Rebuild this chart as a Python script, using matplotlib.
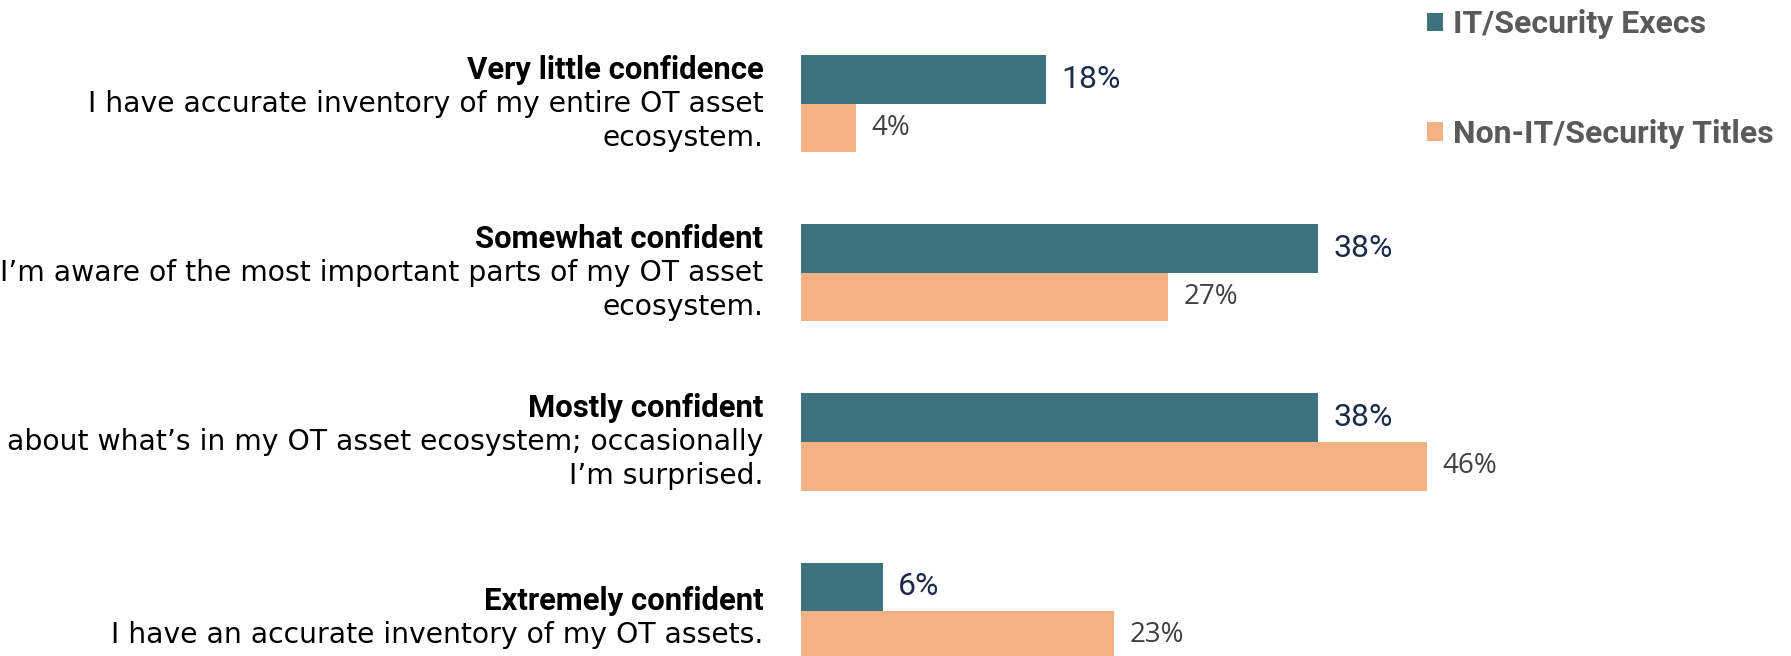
import numpy as np
import matplotlib.pyplot as plt

# survey answers, top to bottom
headings = ["Very little confidence", "Somewhat confident",
            "Mostly confident", "Extremely confident"]
details = ["I have accurate inventory of my entire OT asset\necosystem.",
           "I\u2019m aware of the most important parts of my OT asset\necosystem.",
           "about what\u2019s in my OT asset ecosystem; occasionally\nI\u2019m surprised.",
           "I have an accurate inventory of my OT assets."]
series_names = ["IT/Security Execs", "Non-IT/Security Titles"]
it_execs = [18, 38, 38, 6]
non_it = [4, 27, 46, 23]

TEAL = "#3d737f"
PEACH = "#f4b183"

fig = plt.figure(figsize=(17.91, 6.56), dpi=100)
ax = fig.add_axes([0.4475, 0.0, 0.5525, 1.0])

y = np.arange(len(headings))
h = 0.287
b1 = ax.barh(y - h / 2, it_execs, height=h, color=TEAL, label=series_names[0])
b2 = ax.barh(y + h / 2, non_it, height=h, color=PEACH, label=series_names[1])

ax.set_xlim(0, 72.8)
ax.set_ylim(3.266, -0.615)
ax.axis("off")

# value labels just past the end of each bar
for rect, v in zip(b1, it_execs):
    ax.annotate(f"{v}%", xy=(v, rect.get_y() + rect.get_height() / 2),
                xytext=(11, 0), textcoords="offset points", va="center",
                ha="left", fontsize=23, family="Roboto", color="#1b2a4a")
for rect, v in zip(b2, non_it):
    ax.annotate(f"{v}%", xy=(v, rect.get_y() + rect.get_height() / 2),
                xytext=(11, 0), textcoords="offset points", va="center",
                ha="left", fontsize=20, family="Open Sans", color="#404040")

# category text: bold heading followed by the description lines
tr = ax.get_yaxis_transform()
step = 0.2
for i, (head, body) in enumerate(zip(headings, details)):
    lines = [head] + body.split("\n")
    n = len(lines)
    shift = 0.04 if n == 2 else 0.0
    for k, line in enumerate(lines):
        yy = i + (k - (n - 1) / 2) * step + shift
        if k == 0:
            ax.text(-0.0384, yy, line, transform=tr, ha="right", va="center",
                    fontsize=22.4, family="Roboto", fontweight="bold", color="black")
        else:
            ax.text(-0.0384, yy, line, transform=tr, ha="right", va="center",
                    fontsize=20.3, family="DejaVu Sans", color="black")

fig.legend(handles=[b1, b2], labels=series_names, loc="upper left",
           bbox_to_anchor=(1427 / 1791, 1.0 - 9 / 656), frameon=False,
           prop={"family": "Roboto", "weight": "bold", "size": 23},
           labelcolor="#5a5a5a", handlelength=0.5, handleheight=0.5,
           handletextpad=0.3, labelspacing=2.5, borderpad=0.0,
           borderaxespad=0.0)

fig.savefig("out.png", dpi=100)
